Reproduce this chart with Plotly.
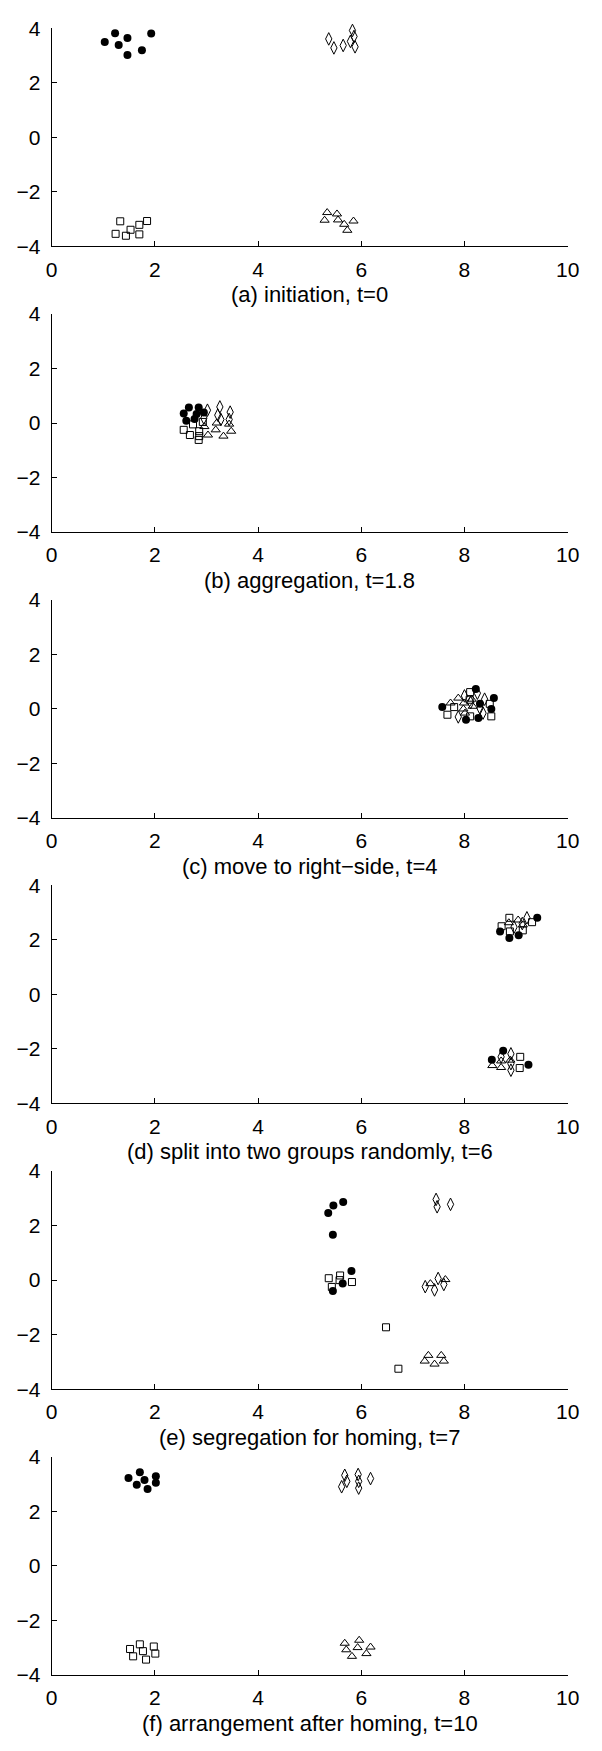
import plotly.graph_objects as go

# Positions of the four robot groups at each snapshot (x, y in arena units)
captions = [
    "(a) initiation, t=0",
    "(b) aggregation, t=1.8",
    "(c) move to right\u2212side, t=4",
    "(d) split into two groups randomly, t=6",
    "(e) segregation for homing, t=7",
    "(f) arrangement after homing, t=10",
]

circle_x = [
    [1.03, 1.23, 1.30, 1.47, 1.47, 1.75, 1.93],
    [2.56, 2.66, 2.61, 2.81, 2.85, 2.77, 2.95],
    [7.57, 8.22, 8.30, 8.03, 8.27, 8.52, 8.57],
    [8.69, 8.87, 9.05, 9.41, 8.53, 8.75, 9.24],
    [5.36, 5.46, 5.65, 5.45, 5.81, 5.64, 5.45],
    [1.49, 1.71, 1.80, 1.65, 1.86, 2.02, 2.02],
]
circle_y = [
    [3.50, 3.82, 3.39, 3.64, 3.02, 3.19, 3.81],
    [0.35, 0.57, 0.08, 0.33, 0.57, 0.15, 0.39],
    [0.06, 0.72, 0.18, -0.40, -0.34, -0.01, 0.39],
    [2.31, 2.07, 2.17, 2.81, -2.40, -2.07, -2.58],
    [2.46, 2.74, 2.87, 1.66, 0.33, -0.12, -0.40],
    [3.22, 3.43, 3.15, 2.97, 2.82, 3.29, 3.05],
]

diamond_x = [
    [5.37, 5.47, 5.65, 5.79, 5.83, 5.86, 5.88],
    [3.02, 3.26, 3.22, 3.28, 3.46, 3.44, 2.95],
    [7.88, 8.00, 8.25, 8.39, 8.12, 8.36, 8.30],
    [8.96, 9.21, 9.12, 8.71, 8.90, 8.90, 8.90],
    [7.45, 7.47, 7.73, 7.24, 7.42, 7.49, 7.60],
    [5.62, 5.68, 5.72, 5.94, 5.95, 5.95, 6.18],
]
diamond_y = [
    [3.61, 3.28, 3.37, 3.52, 3.92, 3.70, 3.32],
    [0.47, 0.59, 0.29, 0.13, 0.40, 0.13, 0.18],
    [-0.30, 0.47, 0.57, 0.35, 0.23, -0.16, 0.02],
    [2.47, 2.81, 2.60, -2.29, -2.18, -2.54, -2.78],
    [2.96, 2.69, 2.78, -0.24, -0.36, 0.06, -0.16],
    [2.90, 3.32, 3.10, 3.35, 3.10, 2.85, 3.20],
]

square_x = [
    [1.33, 1.24, 1.44, 1.53, 1.70, 1.70, 1.85],
    [2.56, 2.68, 2.74, 2.86, 2.86, 2.85, 2.93],
    [7.67, 7.80, 8.11, 8.10, 8.11, 8.49, 8.52],
    [8.72, 8.87, 8.88, 9.13, 9.31, 9.08, 9.07],
    [5.37, 5.59, 5.58, 5.43, 5.82, 6.48, 6.72],
    [1.52, 1.58, 1.71, 1.77, 1.83, 1.98, 2.01],
]
square_y = [
    [-3.08, -3.54, -3.61, -3.39, -3.21, -3.56, -3.07],
    [-0.25, -0.44, -0.05, -0.30, -0.48, -0.62, 0.04],
    [-0.22, 0.06, 0.61, 0.33, -0.28, 0.18, -0.28],
    [2.50, 2.81, 2.31, 2.35, 2.65, -2.29, -2.70],
    [0.07, 0.17, 0.00, -0.25, -0.07, -1.73, -3.25],
    [-3.05, -3.32, -2.88, -3.13, -3.44, -2.96, -3.22],
]

triangle_x = [
    [5.34, 5.29, 5.53, 5.55, 5.67, 5.73, 5.85],
    [2.96, 3.03, 3.18, 3.20, 3.33, 3.44, 3.48],
    [7.73, 7.88, 7.98, 7.99, 8.14, 8.16, 8.01],
    [8.86, 9.04, 9.13, 8.54, 8.71, 8.71, 8.89],
    [7.34, 7.63, 7.30, 7.23, 7.42, 7.55, 7.60],
    [5.68, 5.71, 5.82, 5.96, 5.93, 6.10, 6.18],
]
triangle_y = [
    [-2.76, -3.04, -2.81, -3.03, -3.19, -3.41, -3.07],
    [-0.13, -0.44, -0.25, 0.00, -0.48, -0.04, -0.30],
    [0.21, 0.39, -0.01, 0.21, 0.35, 0.09, -0.16],
    [2.63, 2.73, 2.55, -2.61, -2.68, -2.44, -2.41],
    [-0.13, 0.02, -2.76, -2.97, -3.08, -2.76, -2.97],
    [-2.84, -3.08, -3.32, -2.73, -3.00, -3.22, -2.98],
]

x_ticks = [0, 2, 4, 6, 8, 10]
y_ticks = [-4, -2, 0, 2, 4]

W, H = 602, 1751
PLOT_LEFT, PLOT_RIGHT = 47, 579
FIRST_TOP, PANEL_H, PERIOD = 16.5, 221, 289.5
FONT = "Liberation Sans, Arial, Helvetica, sans-serif"
TICK_SIZE = 21
CAPTION_SIZE = 22

fig = go.Figure()

groups = [
    (circle_x, circle_y, dict(symbol="circle", size=8, color="black",
                              line=dict(width=0))),
    (diamond_x, diamond_y, dict(symbol="diamond-tall-open", size=9, color="black",
                                line=dict(width=1, color="black"))),
    (square_x, square_y, dict(symbol="square-open", size=7, color="black",
                              line=dict(width=1, color="black"))),
    (triangle_x, triangle_y, dict(symbol="triangle-up-open", size=8, color="black",
                                  line=dict(width=1, color="black"))),
]

annotations = []
for i in range(6):
    top = FIRST_TOP + i * PERIOD
    bottom = top + PANEL_H
    xa = "xaxis" if i == 0 else f"xaxis{i + 1}"
    ya = "yaxis" if i == 0 else f"yaxis{i + 1}"
    xref = "x" if i == 0 else f"x{i + 1}"
    yref = "y" if i == 0 else f"y{i + 1}"

    for gx, gy, marker in groups:
        fig.add_trace(go.Scatter(
            x=gx[i], y=gy[i], mode="markers", marker=marker,
            xaxis=xref, yaxis=yref, showlegend=False, cliponaxis=False,
        ))

    axis_common = dict(
        showline=True, linecolor="black", linewidth=1,
        ticks="inside", ticklen=5, tickwidth=1, tickcolor="black",
        showgrid=False, zeroline=False, mirror=False,
        tickfont=dict(family=FONT, size=TICK_SIZE, color="black"),
    )
    fig.layout[xa] = dict(
        axis_common, range=[0, 10], tickvals=x_ticks,
        domain=[PLOT_LEFT / W, PLOT_RIGHT / W], anchor=yref,
        ticklabelstandoff=4,
    )
    fig.layout[ya] = dict(
        axis_common, range=[-4, 4], tickvals=y_ticks,
        domain=[1 - bottom / H, 1 - top / H], anchor=xref,
        ticklabelstandoff=6,
    )
    annotations.append(dict(
        text=captions[i], xref="paper", yref="paper",
        x=(PLOT_LEFT + PLOT_RIGHT) / 2 / W, y=1 - (bottom + 49) / H,
        xanchor="center", yanchor="middle", showarrow=False,
        font=dict(family=FONT, size=CAPTION_SIZE, color="black"),
    ))

fig.update_layout(
    width=W, height=H,
    margin=dict(l=0, r=0, t=0, b=0),
    paper_bgcolor="white", plot_bgcolor="white",
    annotations=annotations,
)

fig.write_html("out.html")
